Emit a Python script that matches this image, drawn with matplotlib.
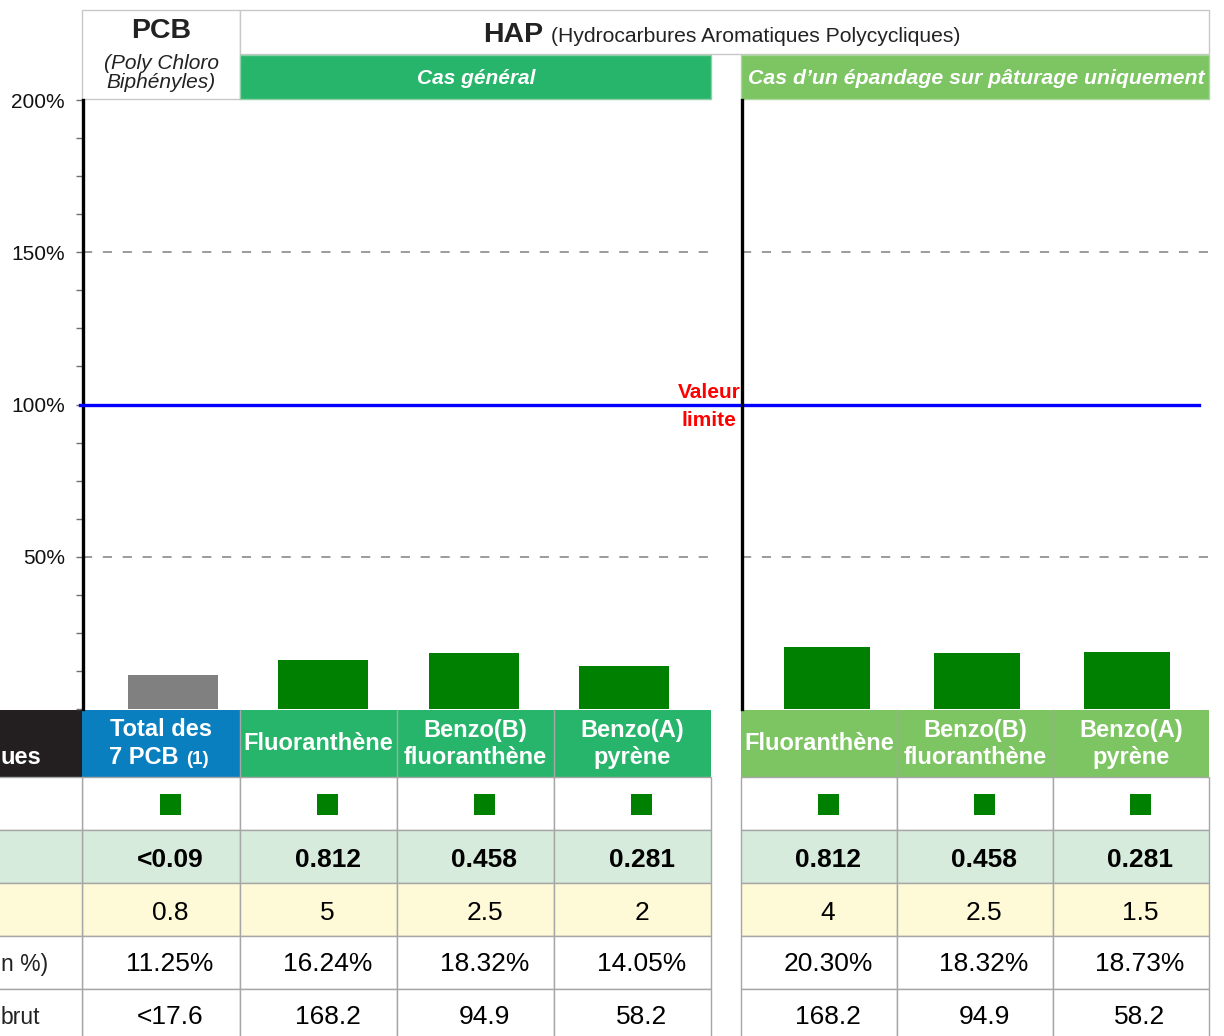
import matplotlib.pyplot as plt
from matplotlib.patches import Rectangle
from matplotlib.ticker import MultipleLocator, FixedLocator, FuncFormatter

plt.rcParams['font.family'] = ['Liberation Sans', 'DejaVu Sans']

W, H = 1224, 1036

# data
pcb_name = "Total des\n7 PCB"
general_names = ["Fluoranthène", "Benzo(B)\nfluoranthène", "Benzo(A)\npyrène"]
paturage_names = ["Fluoranthène", "Benzo(B)\nfluoranthène", "Benzo(A)\npyrène"]
pcb_pct = [11.25]
general_pct = [16.24, 18.32, 14.05]
paturage_pct = [20.30, 18.32, 18.73]
teneur_left = ["<0.09", "0.812", "0.458", "0.281"]
teneur_right = ["0.812", "0.458", "0.281"]
limite_left = ["0.8", "5", "2.5", "2"]
limite_right = ["4", "2.5", "1.5"]
flux_left = ["<17.6", "168.2", "94.9", "58.2"]
flux_right = ["168.2", "94.9", "58.2"]
row_labels = ["ues", "", "", "", "n %)", "brut"]
y_ticks = [50, 100, 150, 200]
limit_value = 100

GREEN = "#008000"
GREY_BAR = "#808080"
C_PCB = "#0a7fc0"
C_GEN = "#27b56b"
C_PAT = "#7dc462"
C_DARK = "#231f20"
C_ROW2 = "#d6ebdc"
C_ROW3 = "#fef9d6"
EDGE = "#a6a6a6"

fig = plt.figure(figsize=(W / 100, H / 100), dpi=100)

# overlay in pixel coordinates for headers and table
tab = fig.add_axes([0, 0, 1, 1], zorder=0)
tab.set_xlim(0, W)
tab.set_ylim(H, 0)
tab.axis("off")


def px_axes(x0, y0, x1, y1, **kw):
    return fig.add_axes([x0 / W, (H - y1) / H, (x1 - x0) / W, (y1 - y0) / H], **kw)


# ---- chart ----
ax1 = px_axes(83, 100, 711, 709, zorder=2)
ax2 = px_axes(742, 100, 1209, 709, zorder=3)
ax2.set_facecolor("none")
ax1.set_facecolor("none")

ax1.bar([0], pcb_pct, width=0.6, color=GREY_BAR, zorder=3)
ax1.bar(range(1, 1 + len(general_pct)), general_pct, width=0.6, color=GREEN, zorder=3)
ax2.bar(range(len(paturage_pct)), paturage_pct, width=0.575, color=GREEN, zorder=3)
ax1.set_xlim(-0.6, 3.58)
ax2.set_xlim(-0.567, 2.547)

for ax in (ax1, ax2):
    ax.set_ylim(0, 200)
    for s in ("top", "right", "bottom"):
        ax.spines[s].set_visible(False)
    ax.spines["left"].set_linewidth(2.4)
    ax.spines["left"].set_color("black")
    ax.set_xticks([])
    for v in (50, 150):
        ax.axhline(v, color="#808080", lw=1.1, dashes=(6, 7), zorder=1)

ax1.yaxis.set_major_locator(FixedLocator(y_ticks))
ax1.yaxis.set_minor_locator(MultipleLocator(12.5))
ax1.yaxis.set_major_formatter(FuncFormatter(lambda v, p: f"{v:.0f}%"))
ax1.tick_params(axis="y", which="both", length=5, width=1, color="#707070",
                labelsize=15, labelcolor="#111111", pad=8)
ax2.set_yticks([])

ax1.axhline(limit_value, xmin=-0.005, xmax=(1199 - 83) / 628, color="#0000ff",
            lw=2.4, clip_on=False, zorder=4)
fig.text(709 / W, 1 - 392 / H, "Valeur", color="red", fontsize=15, fontweight="bold",
         ha="center", va="center", zorder=10)
fig.text(709 / W, 1 - 420 / H, "limite", color="red", fontsize=15, fontweight="bold",
         ha="center", va="center", zorder=10)

# ---- top headers ----
tab.add_patch(Rectangle((82, 10), 158, 89, facecolor="white", edgecolor="#c8c8c8", lw=1))
tab.text(161, 31, "PCB", fontsize=20.5, fontweight="bold", color="#222222", ha="center", va="center")
tab.text(161, 73, "(Poly Chloro\nBiphényles)", fontsize=15, style="italic", color="#222222",
         ha="center", va="center", linespacing=1.0)
tab.add_patch(Rectangle((240, 10), 969, 44, facecolor="white", edgecolor="#c8c8c8", lw=1))
tab.text(543, 42, "HAP", fontsize=20.5, fontweight="bold", color="#222222", ha="right", va="baseline")
tab.text(551, 42, "(Hydrocarbures Aromatiques Polycycliques)", fontsize=15.2, color="#222222",
         ha="left", va="baseline")
tab.add_patch(Rectangle((240, 55), 471, 44, facecolor=C_GEN, edgecolor="#8fcfa8", lw=1))
tab.text(476, 78, "Cas général", fontsize=15, fontweight="bold", style="italic", color="white",
         ha="center", va="center")
tab.add_patch(Rectangle((741, 55), 468, 44, facecolor=C_PAT, edgecolor="#a9d89a", lw=1))
tab.text(976, 78, "Cas d’un épandage sur pâturage uniquement", fontsize=15.3, fontweight="bold",
         style="italic", color="white", ha="center", va="center")

# ---- table ----
col_left = [82, 240, 397, 554, 711]
col_right = [741, 897, 1053, 1209]
rows = [710, 777, 830, 883, 936, 989, 1042]
row_bg = ["white", C_ROW2, C_ROW3, "white", "white"]

groups = [
    (col_left, [C_PCB] + [C_GEN] * 3, [pcb_name] + general_names,
     pcb_pct + general_pct, teneur_left, limite_left, flux_left),
    (col_right, [C_PAT] * 3, paturage_names,
     paturage_pct, teneur_right, limite_right, flux_right),
]

for edges, hcols, names, pcts, ten, lim, flux in groups:
    for i in range(len(edges) - 1):
        x0, x1 = edges[i], edges[i + 1]
        cx = (x0 + x1) / 2
        dx = cx + 9
        tab.add_patch(Rectangle((x0, rows[0]), x1 - x0, rows[1] - rows[0],
                                facecolor=hcols[i], edgecolor=hcols[i], lw=0))
        for r, bg in enumerate(row_bg):
            tab.add_patch(Rectangle((x0, rows[r + 1]), x1 - x0, rows[r + 2] - rows[r + 1],
                                    facecolor=bg, edgecolor=EDGE, lw=1))
        name = names[i]
        if name == pcb_name:
            tab.text(cx, 729, "Total des", fontsize=17, fontweight="bold", color="white",
                     ha="center", va="center")
            tab.text(109, 758, "7 PCB", fontsize=17, fontweight="bold", color="white",
                     ha="left", va="center")
            tab.text(186, 759, "(1)", fontsize=13.5, fontweight="bold", color="white",
                     ha="left", va="center")
        else:
            tab.text(cx, 744, name, fontsize=17, fontweight="bold", color="white",
                     ha="center", va="center", linespacing=1.2)
        tab.add_patch(Rectangle((dx - 10.5, 794), 21, 21, facecolor=GREEN, lw=0))
        tab.text(dx, 860, ten[i], fontsize=19, fontweight="bold", color="black",
                 ha="center", va="center")
        tab.text(dx, 913, lim[i], fontsize=19, color="black", ha="center", va="center")
        tab.text(dx, 964, f"{pcts[i]:.2f}%", fontsize=19, color="black", ha="center", va="center")
        tab.text(dx, 1017, flux[i], fontsize=19, color="black", ha="center", va="center")
    # vertical separators in header
    for x in edges[1:-1]:
        tab.plot([x, x], [rows[0], rows[1]], color=EDGE, lw=1)

# row label column (cut at the left border)
tab.add_patch(Rectangle((0, rows[0]), 82, rows[1] - rows[0], facecolor=C_DARK, lw=0))
for r, bg in enumerate(row_bg):
    tab.add_patch(Rectangle((-2, rows[r + 1]), 84, rows[r + 2] - rows[r + 1],
                            facecolor=bg, edgecolor=EDGE, lw=1))
tab.text(1, 758, row_labels[0], fontsize=17, fontweight="bold", color="white",
         ha="left", va="center")
tab.text(1, 964, row_labels[4], fontsize=16.5, color="#222222", ha="left", va="center")
tab.text(1, 1017, row_labels[5], fontsize=16.5, color="#222222", ha="left", va="center")

fig.savefig("out.png", dpi=100)
